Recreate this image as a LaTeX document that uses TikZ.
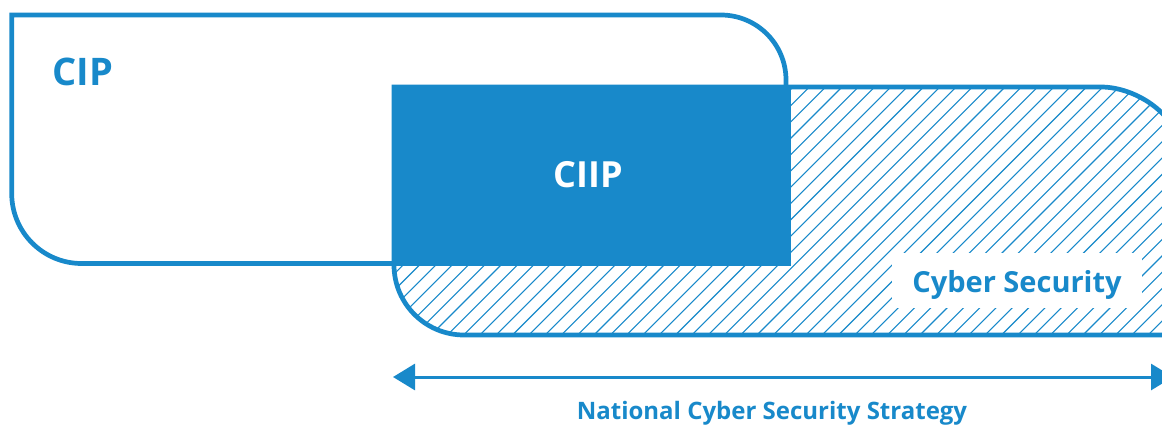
\documentclass[tikz,border=0pt]{standalone}
\usepackage{fontspec}
\setmainfont{Open Sans}
\usetikzlibrary{arrows.meta}
\definecolor{cipblue}{RGB}{24,137,202}
\tikzset{
  outline/.style={draw=cipblue, line width=4.7pt},
  hatchline/.style={draw=cipblue, line width=1.1pt},
  boxlabel/.style={text=cipblue, font=\bfseries, inner sep=0pt},
  span/.style={draw=cipblue, line width=3pt,
    {Triangle[length=22pt,width=26pt]}-{Triangle[length=22pt,width=26pt]}}
}
\begin{document}
\begin{tikzpicture}[x=1pt, y=-1pt]
\useasboundingbox (0,0) rectangle (1162,426);

% Cyber Security area: white fill, diagonal hatching, outline
\def\cyberpath{(394,87) -- (394,265)
  .. controls (394,303.66) and (425.34,335) .. (464,335)
  -- (1180,335) -- (1180,152)
  .. controls (1180,116.1) and (1136.9,87) .. (1101,87) -- cycle}
\fill[white] \cyberpath;
\begin{scope}
  \clip \cyberpath;
  \foreach \i in {0,...,72} {
    \pgfmathsetmacro{\c}{440 + 16.3*\i}
    \draw[hatchline] (\c-360,360) -- (\c-60,60);
  }
\end{scope}
\draw[outline] \cyberpath;

% CIP outline
\draw[outline] (11.7,15) -- (721,15)
  .. controls (756.9,15) and (786,44.1) .. (786,80)
  -- (786,263.5) -- (81.7,263.5)
  .. controls (43,263.5) and (11.7,232.2) .. (11.7,193.5) -- cycle;

% CIIP block
\fill[cipblue] (391.7,84.5) rectangle (791,266);

% labels
\node[boxlabel, font=\bfseries\fontsize{38}{45}\selectfont, anchor=base west]
  (cip) at (52.5,85.5) {CIP};
\node[boxlabel, text=white, font=\bfseries\fontsize{36}{43}\selectfont, anchor=base]
  (ciip) at (588,187) {CIIP};
\node[boxlabel, fill=white, font=\bfseries\fontsize{29}{35}\selectfont,
  minimum width=250pt, minimum height=55pt, text height=23pt, text depth=0pt]
  (cyber) at (1017,280.5) {Cyber Security};

% strategy span
\coordinate (spanL) at (393,377);
\coordinate (spanR) at (1173,377);
\draw[span] (spanL) -- (spanR);
\node[boxlabel, font=\bfseries\fontsize{24}{29}\selectfont, anchor=base]
  (ncss) at (772,419.5) {National Cyber Security Strategy};
\end{tikzpicture}
\end{document}
